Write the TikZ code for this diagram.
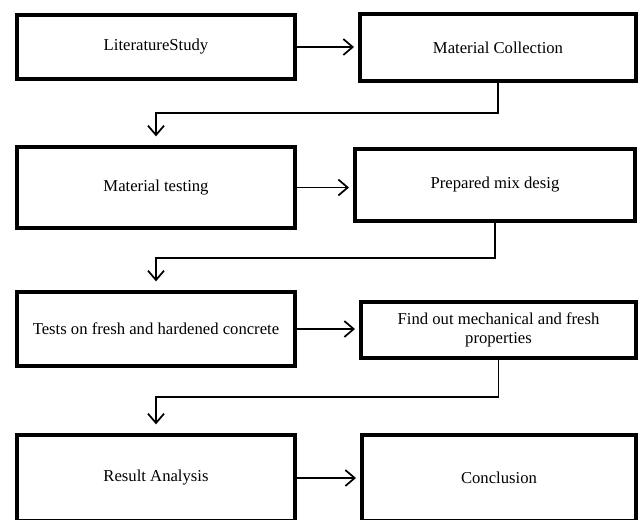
\documentclass[tikz,border=0pt]{standalone}
\usepackage{fontspec}
\setmainfont{Liberation Serif}
\usetikzlibrary{arrows.meta}
\begin{document}
\begin{tikzpicture}[x=0.75pt,y=-0.75pt,
  stepbox/.style={draw=black, line width=3pt, inner sep=2pt, align=center,
    font=\fontsize{12.5}{14}\selectfont},
  conn/.style={line width=1.3pt,
    -{Straight Barb[length=7pt,width=12pt,line width=1.3pt]}, shorten >=3pt},
  down/.style={conn, shorten >=6.5pt}]
\useasboundingbox (0,0) rectangle (640,519);
\clip (0,0) rectangle (640,519);

\node[stepbox, minimum width=208.5pt, minimum height=48pt]    (b1) at (156,47)    {LiteratureStudy};
\node[stepbox, minimum width=207pt,   minimum height=50.25pt] (b2) at (498,47.5)  {Material Collection};
\node[stepbox, minimum width=208.5pt, minimum height=60.75pt] (b3) at (156,187.5) {Material testing};
\node[stepbox, minimum width=210pt,   minimum height=54pt]    (b4) at (495,185)   {Prepared mix desig};
\node[stepbox, minimum width=208.5pt, minimum height=55.5pt]  (b5) at (156,329)   {Tests on fresh and hardened concrete};
\node[stepbox, minimum width=206.25pt,minimum height=42pt]    (b6) at (498.5,330) {Find out mechanical and fresh\\properties};
\node[stepbox, minimum width=208.5pt, minimum height=64.5pt]  (b7) at (156,478)   {Result Analysis};
\node[stepbox, minimum width=205.5pt, minimum height=64.5pt]  (b8) at (499,478)   {Conclusion};

\draw[conn] (b1.east) -- (b1.east -| b2.west);
\draw[conn] (b3.east) -- (b3.east -| b4.west);
\draw[conn] (b5.east) -- (b5.east -| b6.west);
\draw[conn] (b7.east) -- (b7.east -| b8.west);

\draw[down] (b2.south) -- ++(0,30) -| (b3.north);
\draw[down] (b4.south) -- ++(0,35) -| (b5.north);
\draw[down] (b6.south) -- ++(0,37) -| (b7.north);
\end{tikzpicture}
\end{document}
